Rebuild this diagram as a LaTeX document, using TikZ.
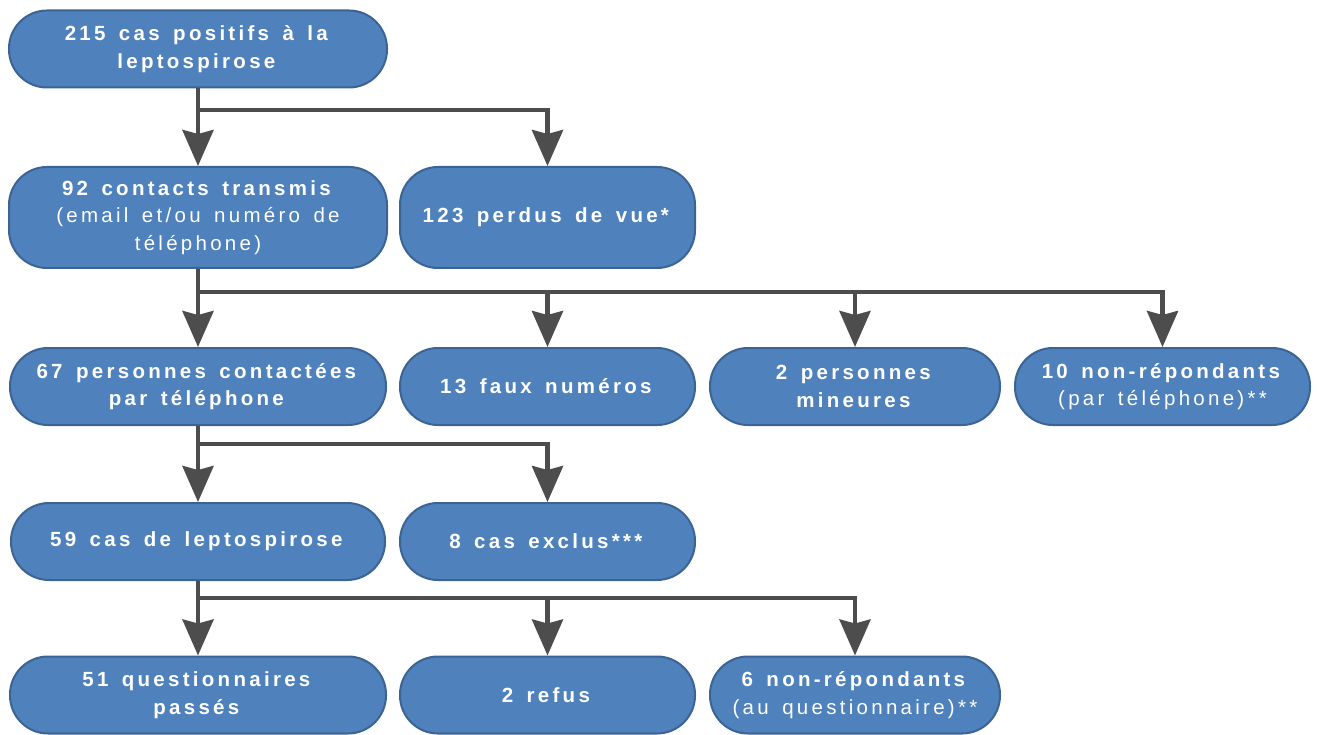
\documentclass[tikz,border=0pt]{standalone}
\usepackage{fontspec}
\usepackage{tikz}
\usetikzlibrary{arrows.meta}
\usetikzlibrary{positioning}
\newfontfamily\boxfont[LetterSpace=16, WordSpace=1.5]{Liberation Sans}
\definecolor{boxblue}{HTML}{4F81BD}
\definecolor{boxedge}{HTML}{3B6494}
\definecolor{linegray}{HTML}{4D4D4D}
\tikzstyle{flowbox}=[rectangle, fill=boxblue, draw=boxedge, line width=2pt,
    rounded corners=38pt, inner sep=0pt, align=center, text=white,
    font=\boxfont\fontsize{20.5}{27.5}\selectfont, minimum height=77pt]
\tikzstyle{flowline}=[draw=linegray, line width=4.5pt,
    -{Stealth[length=36pt, width=31pt, inset=4pt]}]

\begin{document}
\begin{tikzpicture}[x=1pt, y=-1pt]
          \useasboundingbox (0,0) rectangle (1317,735);
          % row 1
          \node[flowbox, minimum width=378pt] (box0) at (198,49){\textbf{215 cas positifs à la}\\\textbf{leptospirose}};
          % row 2
          \node[flowbox, minimum width=378pt, minimum height=101pt] (box1) at (198,217.5){\textbf{92 contacts transmis}\\(email et/ou numéro de\\téléphone)};
          \node[flowbox, minimum width=295pt, minimum height=101pt] (box2) at (547.5,217.5){\textbf{123 perdus de vue*}};
          % row 3
          \node[flowbox, minimum width=376pt] (box3) at (198,386.5){\textbf{67 personnes contactées}\\\textbf{par téléphone}};
          \node[flowbox, minimum width=295pt] (box4) at (547.5,386.5){\textbf{13 faux numéros}};
          \node[flowbox, minimum width=290pt] (box5) at (855,386.5){\textbf{2 personnes}\\\textbf{mineures}};
          \node[flowbox, minimum width=295pt] (box6) at (1162.5,386.5){\textbf{10 non-répondants}\\(par téléphone)**};
          % row 4
          \node[flowbox, minimum width=374pt] (box7) at (198,541.5){\textbf{59 cas de leptospirose}};
          \node[flowbox, minimum width=295pt] (box8) at (547.5,541.5){\textbf{8 cas exclus***}};
          % row 5
          \node[flowbox, minimum width=376pt] (box9) at (198,695){\textbf{51 questionnaires}\\\textbf{passés}};
          \node[flowbox, minimum width=295pt] (box10) at (547.5,695){\textbf{2 refus}};
          \node[flowbox, minimum width=290pt] (box11) at (855,695){\textbf{6 non-répondants}\\(au questionnaire)**};
          % junctions
          \coordinate (j0) at (box0.south |- 0,110);
          \coordinate (j1) at (box1.south |- 0,292);
          \coordinate (j3) at (box3.south |- 0,444);
          \coordinate (j7) at (box7.south |- 0,598);
          \draw[flowline](box0.south) -- (box1.north);
          \draw[flowline](j0) -| (box2.north);
          \draw[flowline](box1.south) -- (box3.north);
          \draw[flowline](j1) -| (box4.north);
          \draw[flowline](j1) -| (box5.north);
          \draw[flowline](j1) -| (box6.north);
          \draw[flowline](box3.south) -- (box7.north);
          \draw[flowline](j3) -| (box8.north);
          \draw[flowline](box7.south) -- (box9.north);
          \draw[flowline](j7) -| (box10.north);
          \draw[flowline](j7) -| (box11.north);
        \end{tikzpicture}
\end{document}
